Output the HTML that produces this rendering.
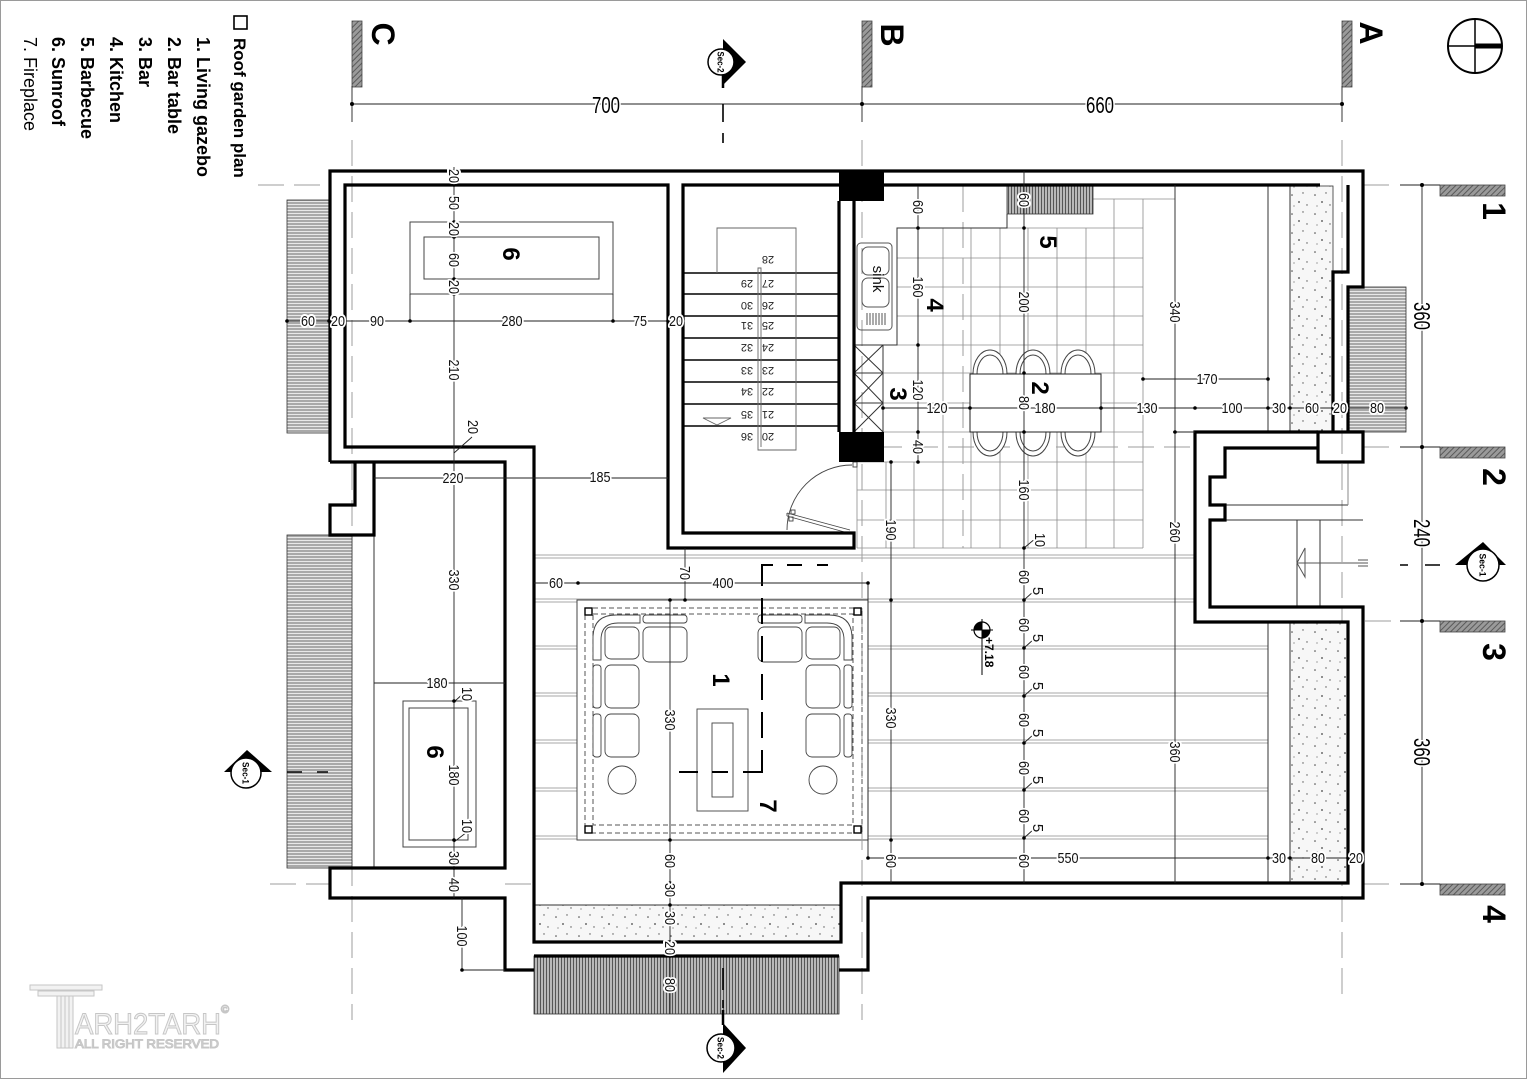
<!DOCTYPE html>
<html><head><meta charset="utf-8">
<style>
html,body{margin:0;padding:0;background:#fff}
svg{display:block}
text{font-family:"Liberation Sans",Arial,sans-serif}
.d{font-size:15px;fill:#111;text-anchor:middle;paint-order:stroke;stroke:#fff;stroke-width:4px;stroke-linejoin:round}
.D{font-size:23px;fill:#000;text-anchor:middle;paint-order:stroke;stroke:#fff;stroke-width:4px;stroke-linejoin:round}
.L{font-weight:bold;font-size:24px;text-anchor:middle}
.G{font-weight:bold;font-size:32px;text-anchor:middle}
.n{font-size:11px;fill:#222;text-anchor:middle}
.s{font-size:9px;font-weight:bold;text-anchor:middle}
</style></head>
<body>
<svg width="1527" height="1080" viewBox="0 0 1527 1080" xmlns="http://www.w3.org/2000/svg">
<defs>
<pattern id="hh" width="6" height="3" patternUnits="userSpaceOnUse"><rect width="6" height="3" fill="#a9a9a9"/><rect width="6" height="1" fill="#e8e8e8"/></pattern>
<pattern id="hv" width="3" height="6" patternUnits="userSpaceOnUse"><rect width="3" height="6" fill="#b8b8b8"/><rect width="1" height="6" fill="#555"/></pattern>
<pattern id="hd" width="4" height="4" patternUnits="userSpaceOnUse" patternTransform="rotate(45)"><rect width="4" height="4" fill="#9a9a9a"/><rect width="1" height="4" fill="#5a5a5a"/></pattern>
<pattern id="dot" width="23" height="19" patternUnits="userSpaceOnUse"><rect width="23" height="19" fill="#f7f7f7"/><circle cx="4" cy="5" r="0.8" fill="#444"/><circle cx="15" cy="3" r="0.7" fill="#555"/><circle cx="11" cy="12" r="0.9" fill="#444"/><circle cx="19" cy="15" r="0.7" fill="#555"/><circle cx="6" cy="16" r="0.6" fill="#666"/></pattern>
</defs>

<rect x="0.5" y="0.5" width="1526" height="1078" fill="#fff" stroke="#9a9a9a"/>

<!-- Legend -->
<g font-weight="bold" font-size="18" fill="#000">
<rect x="234" y="16" width="13" height="13" fill="none" stroke="#000" stroke-width="1.6"/>
<text transform="translate(234,38) rotate(90)" font-size="17">Roof garden plan</text>
<text transform="translate(197,37) rotate(90)">1. Living gazebo</text>
<text transform="translate(168,37) rotate(90)">2. Bar table</text>
<text transform="translate(139,37) rotate(90)">3. Bar</text>
<text transform="translate(110,37) rotate(90)">4. Kitchen</text>
<text transform="translate(81,37) rotate(90)">5. Barbecue</text>
<text transform="translate(52,37) rotate(90)">6. Sunroof</text>
<text transform="translate(24,37) rotate(90)" font-weight="normal">7. Fireplace</text>
</g>

<!-- floor boards -->
<g stroke="#8a8a8a" stroke-width="0.8">
<path d="M535,555 H1195 M535,558 H1195 M535,599 H1195 M535,602 H1195"/>
<path d="M535,646 H1268 M535,649 H1268 M535,693 H1268 M535,696 H1268 M535,740 H1268 M535,743 H1268 M535,788 H1268 M535,791 H1268 M535,836 H1268 M535,839 H1268"/>
</g>
<!-- tile grid -->
<g stroke="#8c8c8c" stroke-width="0.8">
<path d="M897,228 H1143 M897,258 H1143 M897,287 H1143 M897,316 H1143 M883,345 H1143 M883,373 H1143 M883,403 H1143 M883,432 H1143 M857,462 H1143 M857,490 H1143 M857,520 H1143 M857,548 H1143"/>
<path d="M943,228 V548 M971,228 V548 M1000,228 V548 M1028,228 V548 M1057,228 V548 M1086,228 V548 M1114,199 V548 M1143,199 V548 M857,462 V548 M886,462 V548 M914,462 V548"/>
<path d="M1093,199 H1175"/>
</g>

<!-- gazebo base -->
<rect x="577" y="600" width="291" height="240" fill="#fff" stroke="#444" stroke-width="1"/>

<!-- grid dashed lines -->
<g stroke="#9c9c9c" stroke-width="1" stroke-dasharray="26 10" fill="none">
<path d="M352,140 V1020 M862,140 V1020 M1342,140 V1000 M963,186 V548"/>
<path d="M258,185 H330 M1363,185 H1395 M840,447 H1195 M1363,447 H1395 M1365,621 H1395 M270,884 H330 M505,884 H534 M1363,884 H1395"/>
</g>

<!-- hatches -->
<g stroke="#333" stroke-width="0.8">
<rect x="287" y="200" width="42" height="233" fill="url(#hh)"/>
<rect x="287" y="535" width="65" height="333" fill="url(#hh)"/>
<rect x="1348" y="287" width="58" height="145" fill="url(#hh)"/>
<rect x="534" y="956" width="305" height="58" fill="url(#hv)"/>
<rect x="1007" y="186" width="86" height="28" fill="url(#hv)"/>
</g>
<g stroke="#333" stroke-width="0.8">
<rect x="1290" y="186" width="43" height="246" fill="url(#dot)"/>
<rect x="1290" y="622" width="58" height="261" fill="url(#dot)"/>
<rect x="534" y="905" width="307" height="37" fill="url(#dot)"/>
</g>

<!-- grid markers -->
<g fill="url(#hd)" stroke="#444" stroke-width="0.8">
<rect x="352" y="21" width="10" height="66"/>
<rect x="862" y="21" width="10" height="66"/>
<rect x="1342" y="21" width="10" height="66"/>
<rect x="1440" y="185" width="65" height="11"/>
<rect x="1440" y="447" width="65" height="11"/>
<rect x="1440" y="621" width="65" height="11"/>
<rect x="1440" y="884" width="65" height="11"/>
</g>
<g class="G">
<text class="G" transform="translate(372,34) rotate(90)">C</text>
<text class="G" transform="translate(881,35) rotate(90)">B</text>
<text class="G" transform="translate(1360,33) rotate(90)">A</text>
<text class="G" transform="translate(1483,211) rotate(90)">1</text>
<text class="G" transform="translate(1483,477) rotate(90)">2</text>
<text class="G" transform="translate(1483,652) rotate(90)">3</text>
<text class="G" transform="translate(1483,914) rotate(90)">4</text>
</g>

<!-- thin architectural lines -->
<g stroke="#333" stroke-width="1" fill="none">
<path d="M374,535 V868"/>
<path d="M1268,185 V432 M1268,622 V883 M1290,185 V432 M1290,622 V883"/>
<path d="M1225,505 H1348 M1225,520 H1363 M1297,520 V607 M1320,520 V607"/>
<path d="M1348,462 V505" stroke="#888"/>
<path d="M534,905 H841"/>
<!-- kitchen counter -->
<path d="M1007,214 V228 H897 V345 H854"/>
<path d="M883,345 V432 M854,373 H883 M854,403 H883 M854,345 L883,373 M883,345 L854,373 M854,373 L883,403 M883,373 L854,403 M854,403 L883,432 M883,403 L854,432"/>
</g>
<!-- right room arrow -->
<g stroke="#555" stroke-width="1" fill="none">
<polygon points="1305,548 1305,577 1297,563"/>
<path d="M1297,563 H1368 M1358,560 H1368 M1358,566 H1368"/>
</g>

<!-- sink -->
<g stroke="#555" stroke-width="1" fill="none">
<rect x="857" y="243" width="35" height="87" rx="4"/>
<rect x="862" y="247" width="27" height="28" rx="6"/>
<rect x="862" y="278" width="27" height="29" rx="6"/>
<path d="M867,313 V325 M870,313 V325 M873,313 V325 M876,313 V325 M879,313 V325 M882,313 V325 M885,313 V325"/>
</g>
<text transform="translate(873,279) rotate(90)" text-anchor="middle" font-size="15" fill="#111">sink</text>

<!-- bar table & chairs -->
<g stroke="#444" stroke-width="1" fill="#fff">
<path d="M973,374 A17,24 0 0,1 1007,374 Z"/>
<path d="M1016,374 A17,24 0 0,1 1050,374 Z"/>
<path d="M1061,374 A17,24 0 0,1 1095,374 Z"/>
<path d="M973,432 A17,24 0 0,0 1007,432 Z"/>
<path d="M1016,432 A17,24 0 0,0 1050,432 Z"/>
<path d="M1061,432 A17,24 0 0,0 1095,432 Z"/>
<path d="M977,374 A13,19 0 0,1 1003,374 M1020,374 A13,19 0 0,1 1046,374 M1065,374 A13,19 0 0,1 1091,374 M977,432 A13,19 0 0,0 1003,432 M1020,432 A13,19 0 0,0 1046,432 M1065,432 A13,19 0 0,0 1091,432" fill="none"/>
<rect x="970" y="374" width="131" height="58" stroke="#222"/>
</g>

<!-- stairs -->
<g stroke="#000" stroke-width="1.6">
<path d="M683,273 H838 M683,294 H838 M683,316 H838 M683,338 H838 M683,360 H838 M683,382 H838 M683,404 H838 M683,426 H838"/>
</g>
<g stroke="#666" stroke-width="0.9" fill="none">
<path d="M717,273 V228 H796 V450 H758 V268 H761 V447"/>
<polygon points="703,418 731,418 717,425"/>
</g>
<g class="n">
<text class="n" transform="translate(768,260) rotate(180)" dy="4">28</text>
<text class="n" transform="translate(768,284) rotate(180)" dy="4">27</text>
<text class="n" transform="translate(768,306) rotate(180)" dy="4">26</text>
<text class="n" transform="translate(768,326) rotate(180)" dy="4">25</text>
<text class="n" transform="translate(768,348) rotate(180)" dy="4">24</text>
<text class="n" transform="translate(768,371) rotate(180)" dy="4">23</text>
<text class="n" transform="translate(768,392) rotate(180)" dy="4">22</text>
<text class="n" transform="translate(768,415) rotate(180)" dy="4">21</text>
<text class="n" transform="translate(768,437) rotate(180)" dy="4">20</text>
<text class="n" transform="translate(747,284) rotate(180)" dy="4">29</text>
<text class="n" transform="translate(747,306) rotate(180)" dy="4">30</text>
<text class="n" transform="translate(747,326) rotate(180)" dy="4">31</text>
<text class="n" transform="translate(747,348) rotate(180)" dy="4">32</text>
<text class="n" transform="translate(747,371) rotate(180)" dy="4">33</text>
<text class="n" transform="translate(747,392) rotate(180)" dy="4">34</text>
<text class="n" transform="translate(747,415) rotate(180)" dy="4">35</text>
<text class="n" transform="translate(747,437) rotate(180)" dy="4">36</text>
</g>
<!-- door -->
<g stroke="#444" stroke-width="0.9" fill="none">
<path d="M852,465 A65,65 0 0,0 787,530"/>
<path d="M787,513 L850,530 M787,516 L848,533 M787,513 V516"/>
<rect x="791" y="510" width="4" height="4"/>
<rect x="789" y="517" width="4" height="4"/>
<rect x="853" y="462" width="4" height="5"/>
</g>

<!-- gazebo details -->
<g stroke="#555" stroke-width="1" fill="none" stroke-dasharray="5 3">
<rect x="585" y="608" width="277" height="225"/>
<rect x="593" y="614" width="260" height="211"/>
</g>
<g stroke="#000" stroke-width="1.4" fill="#fff">
<rect x="585" y="608" width="7" height="7"/>
<rect x="854" y="608" width="7" height="7"/>
<rect x="585" y="826" width="7" height="7"/>
<rect x="854" y="826" width="7" height="7"/>
</g>
<g stroke="#444" stroke-width="0.9" fill="#fff">
<path d="M593,660 V638 Q593,615 616,615 H640 V623 H618 Q601,623 601,640 V660 Z"/>
<rect x="643" y="615" width="44" height="8" rx="3"/>
<rect x="593" y="665" width="8" height="43" rx="3"/>
<rect x="593" y="714" width="8" height="43" rx="3"/>
<rect x="605" y="627" width="34" height="32" rx="6"/>
<rect x="643" y="627" width="44" height="35" rx="6"/>
<rect x="605" y="665" width="34" height="43" rx="6"/>
<rect x="605" y="714" width="34" height="43" rx="6"/>
<circle cx="622" cy="780" r="14"/>
<path d="M852,660 V638 Q852,615 829,615 H805 V623 H827 Q844,623 844,640 V660 Z"/>
<rect x="758" y="615" width="44" height="8" rx="3"/>
<rect x="844" y="665" width="8" height="43" rx="3"/>
<rect x="844" y="714" width="8" height="43" rx="3"/>
<rect x="806" y="627" width="34" height="32" rx="6"/>
<rect x="758" y="627" width="44" height="35" rx="6"/>
<rect x="806" y="665" width="34" height="43" rx="6"/>
<rect x="806" y="714" width="34" height="43" rx="6"/>
<circle cx="823" cy="780" r="14"/>
<rect x="697" y="709" width="51" height="102"/>
<rect x="712" y="723" width="21" height="74"/>
</g>
<path d="M679,772 H698 M712,772 H728 M743,772 H762 V750 M762,738 V712 M762,700 V674 M762,662 V636 M762,624 V598 M762,586 V565 H773 M787,565 H802 M817,565 H828" stroke="#000" stroke-width="2" fill="none"/>

<!-- walls -->
<g fill="none" stroke="#000" stroke-width="3.2" stroke-linejoin="miter">
<path d="M330,462 V171 H1363 V287 H1348 V432"/>
<path d="M1320,185 H884 M839,185 H683 V533 H854 V548 H668 V185 H345 V447 H534 V942 H841 V883 H1348 V622 H1195 V432 H1318"/>
<path d="M839,201 V432 M854,201 V432"/>
<path d="M1348,185 V272 H1333 V432"/>
<path d="M1318,448 H1225 V477 H1210 V505 H1225 V520 H1210 V607 H1363 V898 H868 V970 H839"/>
<path d="M330,462 H505 V868 H330 V898 H505 V970 H534"/>
<path d="M355,462 V505 H330 V535 H374 V462"/>
<rect x="1318" y="432" width="45" height="30"/>
<path d="M534,956 H839"/>
</g>
<rect x="839" y="171" width="45" height="30" fill="#000"/>
<rect x="839" y="432" width="45" height="30" fill="#000"/>

<!-- barbecue 6 -->
<g stroke="#444" stroke-width="1" fill="none">
<rect x="410" y="222" width="203" height="72"/>
<rect x="424" y="237" width="175" height="42"/>
<rect x="403" y="701" width="73" height="146"/>
<rect x="409" y="708" width="59" height="132"/>
</g>

<!-- dimension lines -->
<g stroke="#222" stroke-width="0.9" fill="none">
<path d="M352,104 H1342 M352,86 V122 M862,86 V122 M1342,86 V122"/>
<path d="M1422,185 V884 M1400,185 H1440 M1400,447 H1440 M1400,621 H1440 M1400,884 H1440"/>
<path d="M454,167 V898 M462,898 V970 H505"/>
<path d="M287,321 H683 M374,478 H668 M374,683 H505"/>
<path d="M410,294 V321 M613,294 V321"/>
<path d="M918,186 V462 M883,408 H1406 M1024,171 V883 M1175,185 V883 M1143,379 H1268 M1173,432 H1195"/>
<path d="M891,462 V883 M670,600 V1014 M685,548 V600 M534,583 H868 M868,583 V858 M868,858 H1365"/>
<path d="M454,453 L472,437 M454,702 L467,690 M454,842 L467,832 M1024,548 L1036,538 M1024,600 L1034,591 M1024,648 L1034,639 M1024,696 L1034,687 M1024,743 L1034,734 M1024,790 L1034,781 M1024,838 L1034,829"/>
</g>
<g fill="#000">
<circle cx="352" cy="104" r="2"/><circle cx="862" cy="104" r="2"/><circle cx="1342" cy="104" r="2"/>
<circle cx="1422" cy="185" r="2"/><circle cx="1422" cy="447" r="2"/><circle cx="1422" cy="621" r="2"/><circle cx="1422" cy="884" r="2"/>
<circle cx="287" cy="321" r="1.8"/><circle cx="329" cy="321" r="1.8"/><circle cx="345" cy="321" r="1.8"/><circle cx="410" cy="321" r="1.8"/><circle cx="613" cy="321" r="1.8"/><circle cx="668" cy="321" r="1.8"/>
<circle cx="454" cy="185" r="1.8"/><circle cx="454" cy="222" r="1.8"/><circle cx="454" cy="237" r="1.8"/><circle cx="454" cy="279" r="1.8"/><circle cx="454" cy="294" r="1.8"/><circle cx="454" cy="701" r="1.8"/><circle cx="454" cy="840" r="1.8"/><circle cx="454" cy="868" r="1.8"/><circle cx="462" cy="970" r="1.8"/>
<circle cx="918" cy="228" r="1.8"/><circle cx="918" cy="345" r="1.8"/><circle cx="918" cy="432" r="1.8"/><circle cx="918" cy="462" r="1.8"/>
<circle cx="883" cy="408" r="1.8"/><circle cx="970" cy="408" r="1.8"/><circle cx="1101" cy="408" r="1.8"/><circle cx="1195" cy="408" r="1.8"/><circle cx="1268" cy="408" r="1.8"/><circle cx="1290" cy="408" r="1.8"/><circle cx="1333" cy="408" r="1.8"/><circle cx="1406" cy="408" r="1.8"/>
<circle cx="1143" cy="379" r="1.8"/><circle cx="1268" cy="379" r="1.8"/><circle cx="1175" cy="432" r="1.8"/>
<circle cx="1024" cy="228" r="1.8"/><circle cx="1024" cy="373" r="1.8"/><circle cx="1024" cy="432" r="1.8"/><circle cx="1024" cy="548" r="1.8"/><circle cx="1024" cy="600" r="1.8"/><circle cx="1024" cy="648" r="1.8"/><circle cx="1024" cy="696" r="1.8"/><circle cx="1024" cy="743" r="1.8"/><circle cx="1024" cy="790" r="1.8"/><circle cx="1024" cy="838" r="1.8"/>
<circle cx="891" cy="462" r="1.8"/><circle cx="891" cy="600" r="1.8"/><circle cx="891" cy="840" r="1.8"/>
<circle cx="578" cy="583" r="1.8"/><circle cx="868" cy="583" r="1.8"/><circle cx="685" cy="600" r="1.8"/>
<circle cx="670" cy="600" r="1.8"/><circle cx="670" cy="840" r="1.8"/><circle cx="670" cy="883" r="1.8"/><circle cx="670" cy="905" r="1.8"/><circle cx="670" cy="942" r="1.8"/><circle cx="670" cy="956" r="1.8"/>
<circle cx="868" cy="858" r="1.8"/><circle cx="1268" cy="858" r="1.8"/><circle cx="1290" cy="858" r="1.8"/><circle cx="1348" cy="858" r="1.8"/>
</g>

<!-- horizontal dim texts -->
<g>
<text class="d" x="308" y="321" dy="5" textLength="14" lengthAdjust="spacingAndGlyphs">60</text>
<text class="d" x="338" y="321" dy="5" textLength="14" lengthAdjust="spacingAndGlyphs">20</text>
<text class="d" x="377" y="321" dy="5" textLength="14" lengthAdjust="spacingAndGlyphs">90</text>
<text class="d" x="512" y="321" dy="5" textLength="21" lengthAdjust="spacingAndGlyphs">280</text>
<text class="d" x="640" y="321" dy="5" textLength="14" lengthAdjust="spacingAndGlyphs">75</text>
<text class="d" x="676" y="321" dy="5" textLength="14" lengthAdjust="spacingAndGlyphs">20</text>
<text class="d" x="453" y="478" dy="5" textLength="21" lengthAdjust="spacingAndGlyphs">220</text>
<text class="d" x="600" y="477" dy="5" textLength="21" lengthAdjust="spacingAndGlyphs">185</text>
<text class="d" x="437" y="683" dy="5" textLength="21" lengthAdjust="spacingAndGlyphs">180</text>
<text class="d" x="937" y="408" dy="5" textLength="21" lengthAdjust="spacingAndGlyphs">120</text>
<text class="d" x="1045" y="408" dy="5" textLength="21" lengthAdjust="spacingAndGlyphs">180</text>
<text class="d" x="1147" y="408" dy="5" textLength="21" lengthAdjust="spacingAndGlyphs">130</text>
<text class="d" x="1232" y="408" dy="5" textLength="21" lengthAdjust="spacingAndGlyphs">100</text>
<text class="d" x="1279" y="408" dy="5" textLength="14" lengthAdjust="spacingAndGlyphs">30</text>
<text class="d" x="1312" y="408" dy="5" textLength="14" lengthAdjust="spacingAndGlyphs">60</text>
<text class="d" x="1340" y="408" dy="5" textLength="14" lengthAdjust="spacingAndGlyphs">20</text>
<text class="d" x="1377" y="408" dy="5" textLength="14" lengthAdjust="spacingAndGlyphs">80</text>
<text class="d" x="1207" y="379" dy="5" textLength="21" lengthAdjust="spacingAndGlyphs">170</text>
<text class="d" x="556" y="583" dy="5" textLength="14" lengthAdjust="spacingAndGlyphs">60</text>
<text class="d" x="723" y="583" dy="5" textLength="21" lengthAdjust="spacingAndGlyphs">400</text>
<text class="d" x="1068" y="858" dy="5" textLength="21" lengthAdjust="spacingAndGlyphs">550</text>
<text class="d" x="1279" y="858" dy="5" textLength="14" lengthAdjust="spacingAndGlyphs">30</text>
<text class="d" x="1318" y="858" dy="5" textLength="14" lengthAdjust="spacingAndGlyphs">80</text>
<text class="d" x="1356" y="858" dy="5" textLength="14" lengthAdjust="spacingAndGlyphs">20</text>
</g>

<!-- rotated dim texts -->
<g>
<text class="d" transform="translate(454,176) rotate(90)" dy="5" textLength="14" lengthAdjust="spacingAndGlyphs">20</text>
<text class="d" transform="translate(454,203) rotate(90)" dy="5" textLength="14" lengthAdjust="spacingAndGlyphs">50</text>
<text class="d" transform="translate(454,229) rotate(90)" dy="5" textLength="14" lengthAdjust="spacingAndGlyphs">20</text>
<text class="d" transform="translate(454,260) rotate(90)" dy="5" textLength="14" lengthAdjust="spacingAndGlyphs">60</text>
<text class="d" transform="translate(454,287) rotate(90)" dy="5" textLength="14" lengthAdjust="spacingAndGlyphs">20</text>
<text class="d" transform="translate(454,370) rotate(90)" dy="5" textLength="21" lengthAdjust="spacingAndGlyphs">210</text>
<text class="d" transform="translate(473,427) rotate(90)" dy="5" textLength="14" lengthAdjust="spacingAndGlyphs">20</text>
<text class="d" transform="translate(454,580) rotate(90)" dy="5" textLength="21" lengthAdjust="spacingAndGlyphs">330</text>
<text class="d" transform="translate(467,694) rotate(90)" dy="5" textLength="14" lengthAdjust="spacingAndGlyphs">10</text>
<text class="d" transform="translate(454,775) rotate(90)" dy="5" textLength="21" lengthAdjust="spacingAndGlyphs">180</text>
<text class="d" transform="translate(467,826) rotate(90)" dy="5" textLength="14" lengthAdjust="spacingAndGlyphs">10</text>
<text class="d" transform="translate(454,858) rotate(90)" dy="5" textLength="14" lengthAdjust="spacingAndGlyphs">30</text>
<text class="d" transform="translate(454,885) rotate(90)" dy="5" textLength="14" lengthAdjust="spacingAndGlyphs">40</text>
<text class="d" transform="translate(462,936) rotate(90)" dy="5" textLength="21" lengthAdjust="spacingAndGlyphs">100</text>
<text class="d" transform="translate(918,207) rotate(90)" dy="5" textLength="14" lengthAdjust="spacingAndGlyphs">60</text>
<text class="d" transform="translate(918,287) rotate(90)" dy="5" textLength="21" lengthAdjust="spacingAndGlyphs">160</text>
<text class="d" transform="translate(918,390) rotate(90)" dy="5" textLength="21" lengthAdjust="spacingAndGlyphs">120</text>
<text class="d" transform="translate(918,447) rotate(90)" dy="5" textLength="14" lengthAdjust="spacingAndGlyphs">40</text>
<text class="d" transform="translate(1024,200) rotate(90)" dy="5" textLength="14" lengthAdjust="spacingAndGlyphs">60</text>
<text class="d" transform="translate(1024,302) rotate(90)" dy="5" textLength="21" lengthAdjust="spacingAndGlyphs">200</text>
<text class="d" transform="translate(1024,403) rotate(90)" dy="5" textLength="14" lengthAdjust="spacingAndGlyphs">80</text>
<text class="d" transform="translate(1024,490) rotate(90)" dy="5" textLength="21" lengthAdjust="spacingAndGlyphs">160</text>
<text class="d" transform="translate(1040,540) rotate(90)" dy="5" textLength="14" lengthAdjust="spacingAndGlyphs">10</text>
<text class="d" transform="translate(1024,577) rotate(90)" dy="5" textLength="14" lengthAdjust="spacingAndGlyphs">60</text>
<text class="d" transform="translate(1024,625) rotate(90)" dy="5" textLength="14" lengthAdjust="spacingAndGlyphs">60</text>
<text class="d" transform="translate(1024,672) rotate(90)" dy="5" textLength="14" lengthAdjust="spacingAndGlyphs">60</text>
<text class="d" transform="translate(1024,720) rotate(90)" dy="5" textLength="14" lengthAdjust="spacingAndGlyphs">60</text>
<text class="d" transform="translate(1024,768) rotate(90)" dy="5" textLength="14" lengthAdjust="spacingAndGlyphs">60</text>
<text class="d" transform="translate(1024,816) rotate(90)" dy="5" textLength="14" lengthAdjust="spacingAndGlyphs">60</text>
<text class="d" transform="translate(1024,861) rotate(90)" dy="5" textLength="14" lengthAdjust="spacingAndGlyphs">60</text>
<text class="d" transform="translate(1038,591) rotate(90)" dy="5">5</text>
<text class="d" transform="translate(1038,638) rotate(90)" dy="5">5</text>
<text class="d" transform="translate(1038,686) rotate(90)" dy="5">5</text>
<text class="d" transform="translate(1038,733) rotate(90)" dy="5">5</text>
<text class="d" transform="translate(1038,780) rotate(90)" dy="5">5</text>
<text class="d" transform="translate(1038,828) rotate(90)" dy="5">5</text>
<text class="d" transform="translate(1175,312) rotate(90)" dy="5" textLength="21" lengthAdjust="spacingAndGlyphs">340</text>
<text class="d" transform="translate(1175,532) rotate(90)" dy="5" textLength="21" lengthAdjust="spacingAndGlyphs">260</text>
<text class="d" transform="translate(1175,752) rotate(90)" dy="5" textLength="21" lengthAdjust="spacingAndGlyphs">360</text>
<text class="d" transform="translate(891,530) rotate(90)" dy="5" textLength="21" lengthAdjust="spacingAndGlyphs">190</text>
<text class="d" transform="translate(891,718) rotate(90)" dy="5" textLength="21" lengthAdjust="spacingAndGlyphs">330</text>
<text class="d" transform="translate(891,861) rotate(90)" dy="5" textLength="14" lengthAdjust="spacingAndGlyphs">60</text>
<text class="d" transform="translate(670,720) rotate(90)" dy="5" textLength="21" lengthAdjust="spacingAndGlyphs">330</text>
<text class="d" transform="translate(670,861) rotate(90)" dy="5" textLength="14" lengthAdjust="spacingAndGlyphs">60</text>
<text class="d" transform="translate(670,890) rotate(90)" dy="5" textLength="14" lengthAdjust="spacingAndGlyphs">30</text>
<text class="d" transform="translate(670,918) rotate(90)" dy="5" textLength="14" lengthAdjust="spacingAndGlyphs">30</text>
<text class="d" transform="translate(670,948) rotate(90)" dy="5" textLength="14" lengthAdjust="spacingAndGlyphs">20</text>
<text class="d" transform="translate(670,985) rotate(90)" dy="5" textLength="14" lengthAdjust="spacingAndGlyphs">80</text>
<text class="d" transform="translate(685,573) rotate(90)" dy="5" textLength="14" lengthAdjust="spacingAndGlyphs">70</text>
</g>

<!-- big dims -->
<text class="D" x="606" y="105" dy="8" textLength="28" lengthAdjust="spacingAndGlyphs">700</text>
<text class="D" x="1100" y="105" dy="8" textLength="28" lengthAdjust="spacingAndGlyphs">660</text>
<text class="D" transform="translate(1422,316) rotate(90)" dy="8" textLength="28" lengthAdjust="spacingAndGlyphs">360</text>
<text class="D" transform="translate(1422,533) rotate(90)" dy="8" textLength="28" lengthAdjust="spacingAndGlyphs">240</text>
<text class="D" transform="translate(1422,752) rotate(90)" dy="8" textLength="28" lengthAdjust="spacingAndGlyphs">360</text>

<!-- room labels -->
<text class="L" transform="translate(1040,242) rotate(90)" dy="0">5</text>
<text class="L" transform="translate(927,305) rotate(90)">4</text>
<text class="L" transform="translate(890,394) rotate(90)">3</text>
<text class="L" transform="translate(1032,388) rotate(90)">2</text>
<text class="L" transform="translate(503,254) rotate(90)">6</text>
<text class="L" transform="translate(427,752) rotate(90)">6</text>
<text class="L" transform="translate(713,680) rotate(90)">1</text>
<text class="L" transform="translate(760,806) rotate(90)">7</text>

<!-- section markers -->
<g stroke="#000" stroke-width="1.6" fill="none">
<path d="M723,104 V122 M723,133 V143"/>
<path d="M723,968 V990 M723,1000 V1008"/>
<path d="M287,772 H302 M317,772 H328"/>
<path d="M1400,565 H1408 M1425,565 H1440"/>
</g>
<path d="M723,74 V88 M723,1010 V1025" stroke="#000" stroke-width="2.5"/>
<polygon points="723,39 746,62 723,85" fill="#000"/>
<circle cx="721" cy="62" r="13" fill="#fff" stroke="#000" stroke-width="1.5"/>
<text class="s" transform="translate(721,62) rotate(90)" dy="3.5" textLength="21" lengthAdjust="spacingAndGlyphs">Sec-2</text>
<polygon points="723,1023 746,1048 723,1073" fill="#000"/>
<circle cx="721" cy="1048" r="14" fill="#fff" stroke="#000" stroke-width="1.5"/>
<text class="s" transform="translate(721,1048) rotate(90)" dy="3.5" textLength="22" lengthAdjust="spacingAndGlyphs">Sec-2</text>
<polygon points="224,772 247,750 272,772" fill="#000"/>
<circle cx="246" cy="773" r="15" fill="#fff" stroke="#000" stroke-width="1.5"/>
<text class="s" transform="translate(246,773) rotate(90)" dy="3.5" textLength="22" lengthAdjust="spacingAndGlyphs">Sec-1</text>
<polygon points="1455,565 1483,542 1506,565" fill="#000"/>
<circle cx="1483" cy="565" r="16" fill="#fff" stroke="#000" stroke-width="1.5"/>
<text class="s" transform="translate(1483,565) rotate(90)" dy="3.5" textLength="23" lengthAdjust="spacingAndGlyphs">Sec-1</text>

<!-- north arrow -->
<circle cx="1475" cy="46" r="27" fill="none" stroke="#000" stroke-width="2"/>
<path d="M1475,19 V73 M1448,46 H1502" stroke="#000" stroke-width="1.5"/>
<path d="M1475,46 H1501" stroke="#000" stroke-width="5"/>

<!-- elevation -->
<circle cx="982" cy="630" r="8" fill="#fff" stroke="#000" stroke-width="1.2"/>
<path d="M982,630 V622 A8,8 0 0,0 974,630 Z" fill="#000"/>
<path d="M982,630 V638 A8,8 0 0,0 990,630 Z" fill="#000"/>
<path d="M971,630 H993 M982,619 V675" stroke="#000" stroke-width="1"/>
<text transform="translate(985,637) rotate(90)" font-size="12" font-weight="bold">+7.18</text>

<!-- watermark -->
<g fill="#f2f2f2" stroke="#c6c6c6" stroke-width="1">
<path d="M30,985 H102 V990 H30 Z M38,991 H94 V996 H38 Z M57,996 H73 V1048 H57 Z"/>
<path d="M61,996 V1048 M65,996 V1048 M69,996 V1048" fill="none"/>
<text x="75" y="1034" font-size="30" textLength="146" lengthAdjust="spacingAndGlyphs">ARH2TARH</text>
<text x="75" y="1048" font-size="12" textLength="144" lengthAdjust="spacingAndGlyphs">ALL RIGHT RESERVED</text>
<text x="221" y="1013" font-size="11">©</text>
</g>
</svg>
</body></html>
